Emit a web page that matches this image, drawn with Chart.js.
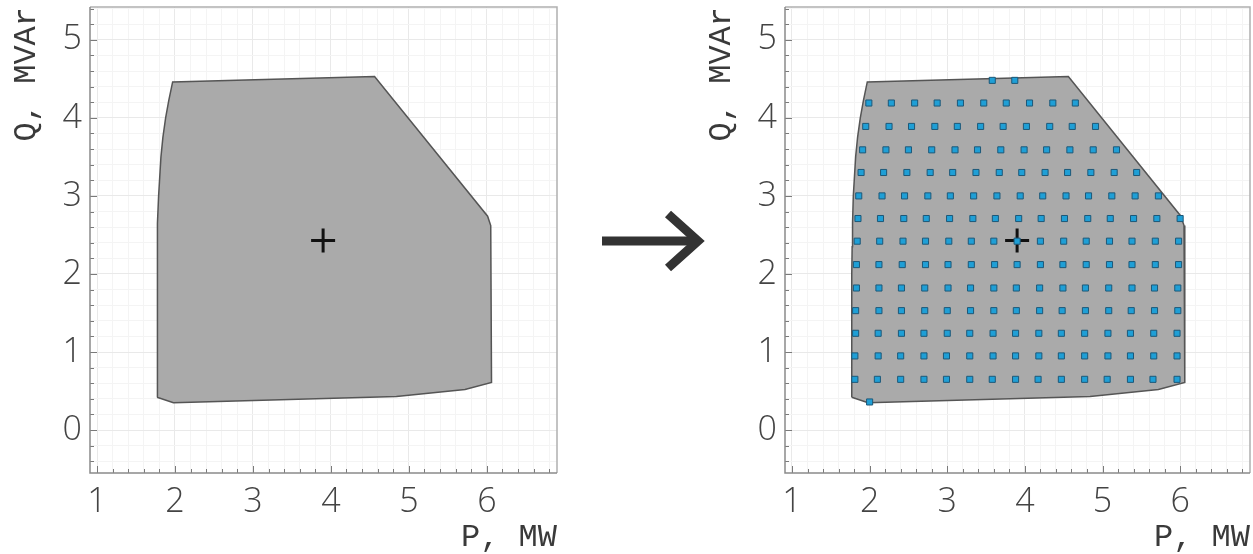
<!DOCTYPE html>
<html>
<head>
<meta charset="utf-8">
<script src="https://cdn.jsdelivr.net/npm/chart.js@4.4.1/dist/chart.umd.min.js"></script>
<style>
  html, body { margin: 0; padding: 0; background: #fff; }
  #wrap { position: relative; width: 1253px; height: 554px; overflow: hidden; }
  canvas, svg { position: absolute; top: 0; }
  #left { left: 0; }
  #right { left: 695px; }
  #arrow { left: 595px; }
</style>
</head>
<body>
<div id="wrap">
  <canvas id="left" width="575" height="554"></canvas>
  <svg id="arrow" width="110" height="554" viewBox="0 0 110 554">
    <line x1="7" y1="241" x2="100" y2="241" stroke="#333" stroke-width="9"/>
    <polyline points="73,214 103,241 73,268" fill="none" stroke="#333" stroke-width="9" stroke-linejoin="miter"/>
  </svg>
  <canvas id="right" width="558" height="554"></canvas>
</div>
<script>
// feasible region boundary (P in MW, Q in MVAr)
const regionP = [1.77, 1.77, 1.775, 1.78, 1.79, 1.805, 1.82, 1.845, 1.88, 1.92, 1.97, 4.56, 6.01, 6.05, 6.06, 5.72, 4.84, 1.98, 1.77];
const regionQ = [0.42, 2.00, 2.35, 2.65, 3.00, 3.25, 3.50, 3.75, 4.00, 4.22, 4.46, 4.53, 2.74, 2.62, 0.61, 0.52, 0.43, 0.35, 0.42];

// operating point
const centerP = [3.9];
const centerQ = [2.43];

// sampled points, one row per Q level
const gridQ = [4.48, 4.19, 3.89, 3.59, 3.30, 3.00, 2.71, 2.42, 2.12, 1.82, 1.53, 1.24, 0.95, 0.65, 0.36];
const gridP = [
  [3.58, 3.87],
  [1.99, 2.28, 2.58, 2.87, 3.17, 3.47, 3.76, 4.06, 4.36, 4.65],
  [1.95, 2.25, 2.54, 2.84, 3.13, 3.43, 3.72, 4.02, 4.32, 4.61, 4.91],
  [1.91, 2.21, 2.50, 2.80, 3.10, 3.39, 3.69, 3.99, 4.28, 4.58, 4.88, 5.18],
  [1.89, 2.18, 2.48, 2.78, 3.07, 3.37, 3.67, 3.96, 4.26, 4.55, 4.85, 5.15, 5.44],
  [1.86, 2.16, 2.45, 2.75, 3.04, 3.34, 3.64, 3.94, 4.23, 4.53, 4.82, 5.12, 5.42, 5.72],
  [1.85, 2.14, 2.44, 2.73, 3.03, 3.33, 3.62, 3.92, 4.21, 4.51, 4.81, 5.10, 5.40, 5.70, 6.00],
  [1.84, 2.13, 2.43, 2.72, 3.02, 3.31, 3.60, 3.90, 4.20, 4.50, 4.79, 5.09, 5.38, 5.68, 5.98],
  [1.83, 2.12, 2.42, 2.72, 3.01, 3.31, 3.61, 3.90, 4.20, 4.49, 4.79, 5.09, 5.38, 5.68, 5.98],
  [1.83, 2.12, 2.41, 2.71, 3.01, 3.30, 3.60, 3.89, 4.19, 4.49, 4.78, 5.08, 5.38, 5.67, 5.97],
  [1.82, 2.12, 2.41, 2.71, 3.00, 3.30, 3.60, 3.89, 4.19, 4.48, 4.78, 5.08, 5.37, 5.67, 5.97],
  [1.82, 2.11, 2.41, 2.70, 3.00, 3.29, 3.59, 3.88, 4.18, 4.47, 4.77, 5.07, 5.36, 5.66, 5.96],
  [1.81, 2.11, 2.40, 2.70, 2.99, 3.29, 3.59, 3.88, 4.18, 4.47, 4.77, 5.07, 5.36, 5.66, 5.96],
  [1.81, 2.10, 2.40, 2.70, 2.99, 3.29, 3.58, 3.88, 4.17, 4.47, 4.77, 5.06, 5.36, 5.65, 5.96],
  [2.00]
];

// axes
const xRange = [0.91, 6.9];
const yRange = [-0.55, 5.42];
const xTickLabels = [1, 2, 3, 4, 5, 6];
const yTickLabels = [0, 1, 2, 3, 4, 5];
const minorStep = 0.2;
const xTitle = 'P, MW';
const yTitle = 'Q, MVAr';

const isMajor = (v, labels) => labels.some(l => Math.abs(v - l) < 1e-6);

// minor tick positions inside the axis range
function minorTicks(range) {
    const out = [];
    for (let k = Math.ceil(range[0] / minorStep - 1e-9); k * minorStep <= range[1] + 1e-9; k++) {
        out.push({ value: Math.round(k * minorStep * 1e6) / 1e6 });
    }
    return out;
}

// inner tick marks on left/bottom + plot frame
const framePlugin = {
    id: 'frame',
    afterDraw(chart) {
        const { ctx, chartArea: a, scales: { x, y } } = chart;
        ctx.save();
        ctx.strokeStyle = '#7a7a7a';
        ctx.lineWidth = 1;
        x.ticks.forEach(t => {
            const px = Math.round(x.getPixelForValue(t.value)) + 0.5;
            const len = isMajor(t.value, xTickLabels) ? 7 : 4;
            ctx.beginPath();
            ctx.moveTo(px, a.bottom);
            ctx.lineTo(px, a.bottom - len);
            ctx.stroke();
        });
        y.ticks.forEach(t => {
            const py = Math.round(y.getPixelForValue(t.value)) + 0.5;
            const len = isMajor(t.value, yTickLabels) ? 7 : 4;
            ctx.beginPath();
            ctx.moveTo(a.left, py);
            ctx.lineTo(a.left + len, py);
            ctx.stroke();
        });
        ctx.lineWidth = 1.5;
        ctx.strokeStyle = '#b0b0b0';
        ctx.beginPath();
        ctx.moveTo(a.left, a.top);
        ctx.lineTo(a.right, a.top);
        ctx.lineTo(a.right, a.bottom);
        ctx.stroke();
        ctx.strokeStyle = '#8a8a8a';
        ctx.beginPath();
        ctx.moveTo(a.left, a.top);
        ctx.lineTo(a.left, a.bottom);
        ctx.lineTo(a.right, a.bottom);
        ctx.stroke();
        ctx.restore();
    }
};

function axis(range, labels, title, isX) {
    return {
        type: 'linear',
        min: range[0],
        max: range[1],
        border: { display: false },
        afterBuildTicks: s => { s.ticks = minorTicks(range); },
        grid: {
            drawTicks: false,
            lineWidth: 1,
            color: c => isMajor(c.tick.value, labels) ? '#e9e9e9' : '#f4f4f4'
        },
        ticks: {
            autoSkip: false,
            maxRotation: 0,
            padding: isX ? 9 : 8,
            color: '#444',
            font: { family: '"Open Sans", sans-serif', size: 34, weight: 300 },
            callback: v => isMajor(v, labels) ? String(Math.round(v)) : ''
        },
        title: {
            display: true,
            text: title,
            align: 'end',
            color: '#3a3a3a',
            padding: isX ? { top: 0, bottom: 0 } : { top: 10, bottom: 0 },
            font: { family: '"Liberation Mono", monospace', size: 32, lineHeight: 1.05 }
        },
        afterFit: s => {
            if (isX) { s.height = 81; s.paddingLeft = 0; s.paddingRight = 0; }
            else { s.width = 90; s.paddingTop = 0; s.paddingBottom = 0; }
        }
    };
}

function makeChart(id, withGrid, padRight) {
    const datasets = [];
    if (withGrid) {
        datasets.push({
            data: gridQ.flatMap((q, i) => gridP[i].map(p => ({ x: p, y: q }))),
            pointStyle: 'rect',
            pointRadius: 4.3,
            backgroundColor: '#1f9fd6',
            borderColor: '#1d5878',
            borderWidth: 1,
            order: 0
        });
    }
    datasets.push({
        data: centerP.map((p, i) => ({ x: p, y: centerQ[i] })),
        pointStyle: 'cross',
        pointRadius: 12,
        borderColor: '#111',
        borderWidth: 3,
        order: 1
    });
    datasets.push({
        data: regionP.map((p, i) => ({ x: p, y: regionQ[i] })),
        showLine: true,
        fill: 'shape',
        tension: 0,
        pointRadius: 0,
        backgroundColor: '#aaaaaa',
        borderColor: '#555',
        borderWidth: 1.5,
        order: 2
    });

    return new Chart(document.getElementById(id), {
        type: 'scatter',
        data: { datasets },
        options: {
            responsive: false,
            animation: false,
            events: [],
            layout: { autoPadding: false, padding: { top: 7, right: padRight, left: 0, bottom: 0 } },
            plugins: { legend: { display: false }, tooltip: { enabled: false } },
            scales: {
                x: axis(xRange, xTickLabels, xTitle, true),
                y: axis(yRange, yTickLabels, yTitle, false)
            }
        },
        plugins: [framePlugin]
    });
}

makeChart('left', false, 18);
makeChart('right', true, 3);
</script>
</body>
</html>
